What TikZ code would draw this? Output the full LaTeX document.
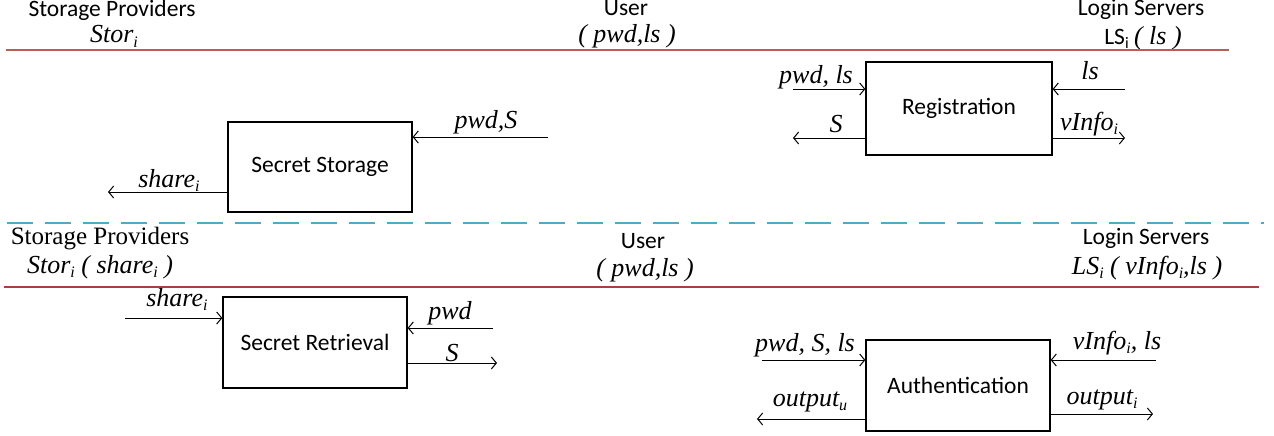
\documentclass[tikz,border=0pt]{standalone}
\usepackage{fontspec}
\usetikzlibrary{arrows.meta}
\setmainfont{Liberation Serif}
\newfontfamily\calfnt{Carlito}
\definecolor{redA}{RGB}{185,95,85}
\definecolor{redB}{RGB}{172,62,62}
\definecolor{cyanA}{RGB}{75,172,198}
\newcommand\sbx[1]{\raisebox{-0.35ex}{\fontsize{16}{16}\selectfont #1}}
\tikzset{
  box/.style={draw, line width=1.3pt, inner sep=0pt, font=\calfnt\fontsize{23.5}{26}\selectfont},
  arr/.style={line width=1pt, -{Straight Barb[length=5pt,width=12pt]}},
  lbl/.style={anchor=base, inner sep=0pt, font=\itshape\fontsize{26}{28}\selectfont},
  hs/.style={anchor=base, inner sep=0pt, font=\calfnt\fontsize{23.5}{26}\selectfont},
  hr/.style={anchor=base, inner sep=0pt, font=\fontsize{25}{27}\selectfont},
}
\begin{document}
\begin{tikzpicture}[x=1pt,y=-1pt]
\useasboundingbox (0,0) rectangle (1274,436);
% ---------- top section headers
\node[hs] (h1) at (112,17) {Storage Providers};
\node[lbl] (h1b) at (114,43) {Stor\sbx{i}};
\node[hs] (h2) at (626,16) {User};
\node[lbl] (h2b) at (627,43) {( pwd,ls )};
\node[hs] (h3) at (1141,16) {Login Servers};
\node[hs] (h3b) at (1143,45) {LS\sbx{i} {\rmfamily\itshape\fontsize{26}{28}\selectfont ( ls )}};
\coordinate (r1a) at (6,50); \coordinate (r1b) at (1229,50);
\draw[redA, line width=2pt] (r1a) -- (r1b);
% ---------- Secret Storage
\node[box, minimum width=184pt, minimum height=90pt] (ss) at (320,167) {Secret Storage};
\coordinate (ss1) at (108,192);
\coordinate (ss2) at (548,137);
\draw[arr] (ss.west |- ss1) -- (ss1);
\draw[arr] (ss2) -- (ss.east |- ss2);
\node[lbl] (lss1) at (169,187) {share\sbx{i}};
\node[lbl] (lss2) at (486,128) {pwd,S};
% ---------- Registration
\node[box, minimum width=186pt, minimum height=93pt] (rg) at (959,108.5) {Registration};
\coordinate (rg1) at (793,89);
\coordinate (rg2) at (793,138);
\coordinate (rg3) at (1125,89);
\coordinate (rg4) at (1125,138);
\draw[arr] (rg1) -- (rg.west |- rg1);
\draw[arr] (rg.west |- rg2) -- (rg2);
\draw[arr] (rg3) -- (rg.east |- rg3);
\draw[arr] (rg.east |- rg4) -- (rg4);
\node[lbl] (lrg1) at (816,83) {pwd, ls};
\node[lbl] (lrg2) at (836,132) {S};
\node[lbl] (lrg3) at (1090,80) {ls};
\node[lbl] (lrg4) at (1089,130) {vInfo\sbx{i}};
% ---------- separator
\coordinate (da) at (7,223); \coordinate (db) at (1264,223);
\draw[cyanA, line width=1.3pt, dash pattern=on 26pt off 12pt] (da) -- (db);
% ---------- bottom section headers
\node[hr] (g1) at (100,244) {Storage Providers};
\node[lbl] (g1b) at (100,273) {Stor\sbx{i} ( share\sbx{i} )};
\node[hs] (g2) at (643,248) {User};
\node[lbl] (g2b) at (645,276) {( pwd,ls )};
\node[hs] (g3) at (1146,244) {Login Servers};
\node[lbl] (g3b) at (1147,274) {LS\sbx{i} ( vInfo\sbx{i},ls )};
\coordinate (r2a) at (4,287); \coordinate (r2b) at (1259,287);
\draw[redB, line width=1.5pt] (r2a) -- (r2b);
% ---------- Secret Retrieval
\node[box, minimum width=184pt, minimum height=91pt] (sr) at (315,342.5) {Secret Retrieval};
\coordinate (sr1) at (125,318);
\coordinate (sr2) at (493,328);
\coordinate (sr3) at (497,363);
\draw[arr] (sr1) -- (sr.west |- sr1);
\draw[arr] (sr2) -- (sr.east |- sr2);
\draw[arr] (sr.east |- sr3) -- (sr3);
\node[lbl] (lsr1) at (177,306) {share\sbx{i}};
\node[lbl] (lsr2) at (450,319) {pwd};
\node[lbl] (lsr3) at (452,361) {S};
% ---------- Authentication
\node[box, minimum width=184pt, minimum height=91pt] (au) at (958,385.5) {Authentication};
\coordinate (au1) at (762,360);
\coordinate (au2) at (757,419);
\coordinate (au3) at (1156,360);
\coordinate (au4) at (1153,414);
\draw[arr] (au1) -- (au.west |- au1);
\draw[arr] (au.west |- au2) -- (au2);
\draw[arr] (au3) -- (au.east |- au3);
\draw[arr] (au.east |- au4) -- (au4);
\node[lbl] (lau1) at (805,351) {pwd, S, ls};
\node[lbl] (lau2) at (810,406) {output\sbx{u}};
\node[lbl] (lau3) at (1117,349) {vInfo\sbx{i}, ls};
\node[lbl] (lau4) at (1102,404) {output\sbx{i}};
\end{tikzpicture}
\end{document}
